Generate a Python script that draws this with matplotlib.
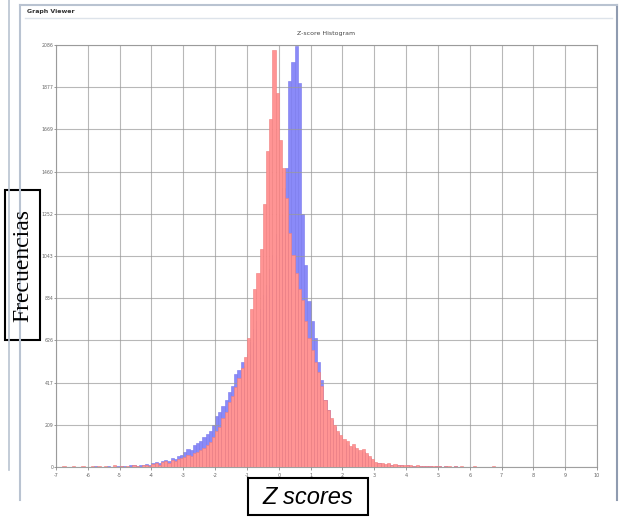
import matplotlib.pyplot as plt
from matplotlib.patches import Rectangle
from matplotlib.lines import Line2D
import numpy as np

# Bin counts per 0.1 z-score bin, one row per unit from -7 to 9
red_counts = [
    0, 0, 5, 0, 0, 3, 0, 0, 4, 0,
    0, 5, 0, 3, 0, 6, 0, 0, 8, 0,
    4, 0, 6, 0, 10, 5, 0, 8, 12, 6,
    15, 20, 12, 25, 30, 22, 35, 28, 40, 45,
    50, 60, 55, 70, 75, 85, 95, 110, 125, 150,
    180, 200, 240, 270, 320, 350, 395, 440, 490, 545,
    640, 780, 880, 960, 1080, 1300, 1560, 1720, 2060, 1850,
    1616, 1480, 1330, 1157, 1050, 960, 880, 825, 720, 640,
    580, 520, 470, 400, 330, 280, 240, 210, 180, 160,
    140, 130, 105, 115, 95, 85, 90, 70, 55, 40,
    25, 20, 22, 15, 18, 12, 15, 10, 12, 8,
    10, 8, 6, 9, 5, 7, 4, 6, 3, 5,
    4, 0, 5, 3, 0, 4, 0, 3, 0, 2,
    0, 3, 0, 0, 2, 0, 0, 3, 0, 0,
    0, 0, 2, 0, 0, 0, 1, 0, 0, 0,
    0, 0, 0, 0, 2, 0, 0, 0, 0, 0,
    0, 0, 0, 0, 0, 0, 0, 0, 0, 0,
]
blue_counts = [
    0, 0, 0, 0, 0, 0, 0, 0, 0, 0,
    0, 0, 3, 0, 0, 0, 4, 0, 0, 5,
    5, 6, 0, 8, 10, 6, 12, 9, 15, 10,
    20, 25, 18, 30, 35, 30, 45, 40, 55, 60,
    75, 90, 85, 110, 120, 130, 150, 165, 180, 210,
    250, 270, 300, 330, 370, 400, 460, 480, 520, 500,
    560, 620, 680, 720, 780, 850, 900, 980, 1050, 1150,
    1250, 1380, 1480, 1910, 2000, 2080, 1900, 1250, 1000, 820,
    720, 640, 520, 430, 330, 280, 230, 200, 170, 150,
    120, 110, 95, 100, 80, 70, 75, 60, 45, 35,
    20, 18, 15, 12, 14, 10, 12, 8, 9, 6,
    8, 6, 5, 7, 4, 5, 3, 4, 2, 3,
    3, 0, 4, 2, 0, 3, 0, 2, 0, 0,
    0, 0, 0, 0, 0, 0, 0, 0, 0, 0,
    0, 0, 0, 0, 0, 0, 0, 0, 0, 0,
    0, 0, 0, 0, 0, 0, 0, 0, 0, 0,
    0, 0, 0, 0, 0, 0, 0, 0, 0, 0,
]
x_ticks = list(range(-7, 11))
y_ticks = [0, 209, 417, 626, 834, 1043, 1252, 1460, 1669, 1877, 2086]

W, H = 621, 532
fig = plt.figure(figsize=(W / 100, H / 100), dpi=100)
fig.patch.set_facecolor('white')


def px(x, y):
    # pixel position (from top-left) to figure fraction
    return x / W, 1 - y / H


# window frame of the viewer
frame_col = '#b9c3d1'
fig.add_artist(Line2D([9 / W, 9 / W], [1, 1 - 470 / H], color=frame_col, lw=1.2))
fig.add_artist(Line2D([20 / W, 20 / W], [1 - 5 / H, 1 - 500 / H], color=frame_col, lw=1.5))
fig.add_artist(Line2D([617 / W, 617 / W], [1 - 5 / H, 1 - 500 / H], color='#8f9bb0', lw=1.5))
fig.add_artist(Line2D([20 / W, 617 / W], [1 - 5 / H, 1 - 5 / H], color=frame_col, lw=1.5))
fig.add_artist(Line2D([25 / W, 612 / W], [1 - 18 / H, 1 - 18 / H], color='#dde3ea', lw=1))
fig.text(*px(27, 12), 'Graph Viewer', fontsize=4.5, fontweight='bold',
         color='#333333', va='center', ha='left')

# plot area
ax = fig.add_axes([56 / W, 1 - 467 / H, 541 / W, 422 / H])
lefts = -7 + 0.1 * np.arange(len(red_counts))
ax.bar(lefts, blue_counts, width=0.1, align='edge', color='#8a8af8',
       edgecolor='#7777ec', linewidth=0.4, zorder=2)
ax.bar(lefts, red_counts, width=0.1, align='edge', color='#ff9494',
       edgecolor='#ef7e7e', linewidth=0.4, zorder=3)

ax.set_xlim(-7, 10)
ax.set_ylim(0, 2086)
ax.set_xticks(x_ticks)
ax.set_yticks(y_ticks)
ax.set_xticklabels([str(t) for t in x_ticks], fontsize=3.5, color='#666666')
ax.set_yticklabels([str(t) for t in y_ticks], fontsize=3.3, color='#666666')
ax.tick_params(axis='x', length=2.5, width=0.6, color='#888888', pad=1.5)
ax.tick_params(axis='y', length=1.5, width=0.6, color='#888888', pad=0.5)
ax.grid(True, color='#9a9a9a', lw=0.8, alpha=0.7, zorder=4)
ax.set_axisbelow(False)
for s in ax.spines.values():
    s.set_color('#a0a0a0')
    s.set_linewidth(0.8)
ax.set_title('Z-score Histogram', fontsize=4.5, color='#444444', pad=7)

# hand-added axis labels in boxes
fig.add_artist(Rectangle(px(5, 340), 35 / W, 150 / H, transform=fig.transFigure,
                         fill=True, facecolor='white', edgecolor='black', lw=1.5))
fig.text(*px(22.5, 265), 'Frecuencias', rotation=90, fontsize=17,
         family='Liberation Serif', ha='center', va='center')
fig.add_artist(Rectangle(px(248, 515), 120 / W, 37 / H, transform=fig.transFigure,
                         fill=True, facecolor='white', edgecolor='black', lw=1.5))
fig.text(*px(308, 497), 'Z scores', fontsize=17, style='italic',
         family='Liberation Sans', ha='center', va='center')

fig.savefig('out.png', dpi=100)
